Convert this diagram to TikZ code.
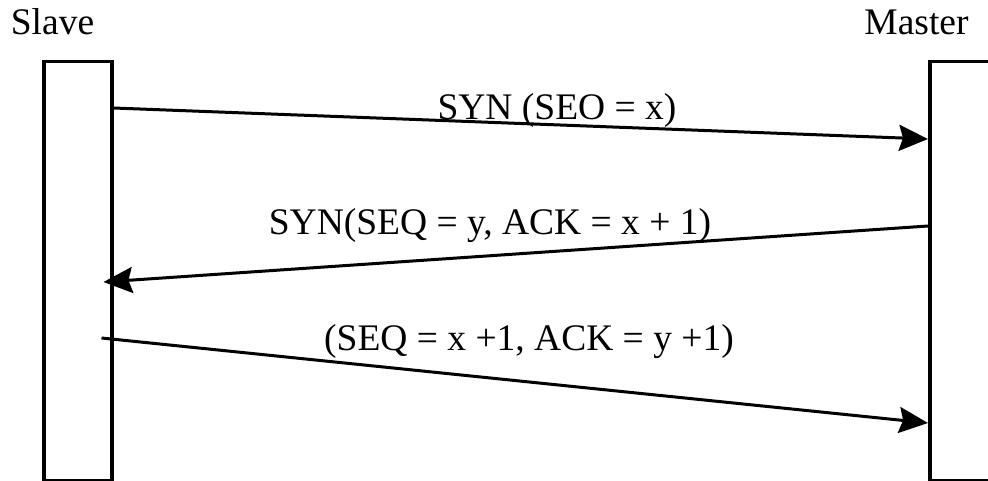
\documentclass[tikz,border=0pt]{standalone}
\usepackage{fontspec}
\setmainfont{Liberation Serif}
\usetikzlibrary{arrows.meta}

\tikzset{
  party/.style={draw, line width=3.5pt, rectangle, inner sep=0pt, anchor=north west,
    minimum height=419pt},
  msg/.style={line width=3pt, -{Stealth[length=29pt, width=26pt, inset=4pt]}},
  lbl/.style={inner sep=0pt, anchor=base, font=\fontsize{37.5}{45}\selectfont},
}

\begin{document}
\begin{tikzpicture}[x=1pt, y=-1pt]
  \clip (0,0) rectangle (988,481);

  % Nodes
  \node[party, minimum width=68pt] (slave) at (42,60) {};
  \node[party, minimum width=90pt] (master) at (928,60) {};
  \node[lbl] (slavename) at (52.5,35) {Slave};
  \node[lbl] (mastername) at (916.5,35) {Master};

  \coordinate (s1) at ([yshift=-48pt]slave.north east);
  \coordinate (m1) at ([yshift=-79pt]master.north west);
  \coordinate (m2) at ([yshift=-166pt]master.north west);
  \coordinate (s2) at ([xshift=-10pt, yshift=-222pt]slave.north east);
  \coordinate (s3) at ([xshift=-12pt, yshift=-278pt]slave.north east);
  \coordinate (m3) at ([yshift=-363pt]master.north west);

  \node[lbl] (syn) at (557,120) {SYN (SEO = x)};
  \node[lbl] (synack) at (490,235) {SYN(SEQ = y, ACK = x + 1)};
  \node[lbl] (ack) at (529,350) {(SEQ = x +1, ACK = y +1)};

  % Edges
  \draw[msg] (s1) -- (m1);
  \draw[msg] (m2) -- (s2);
  \draw[msg] (s3) -- (m3);
\end{tikzpicture}
\end{document}
